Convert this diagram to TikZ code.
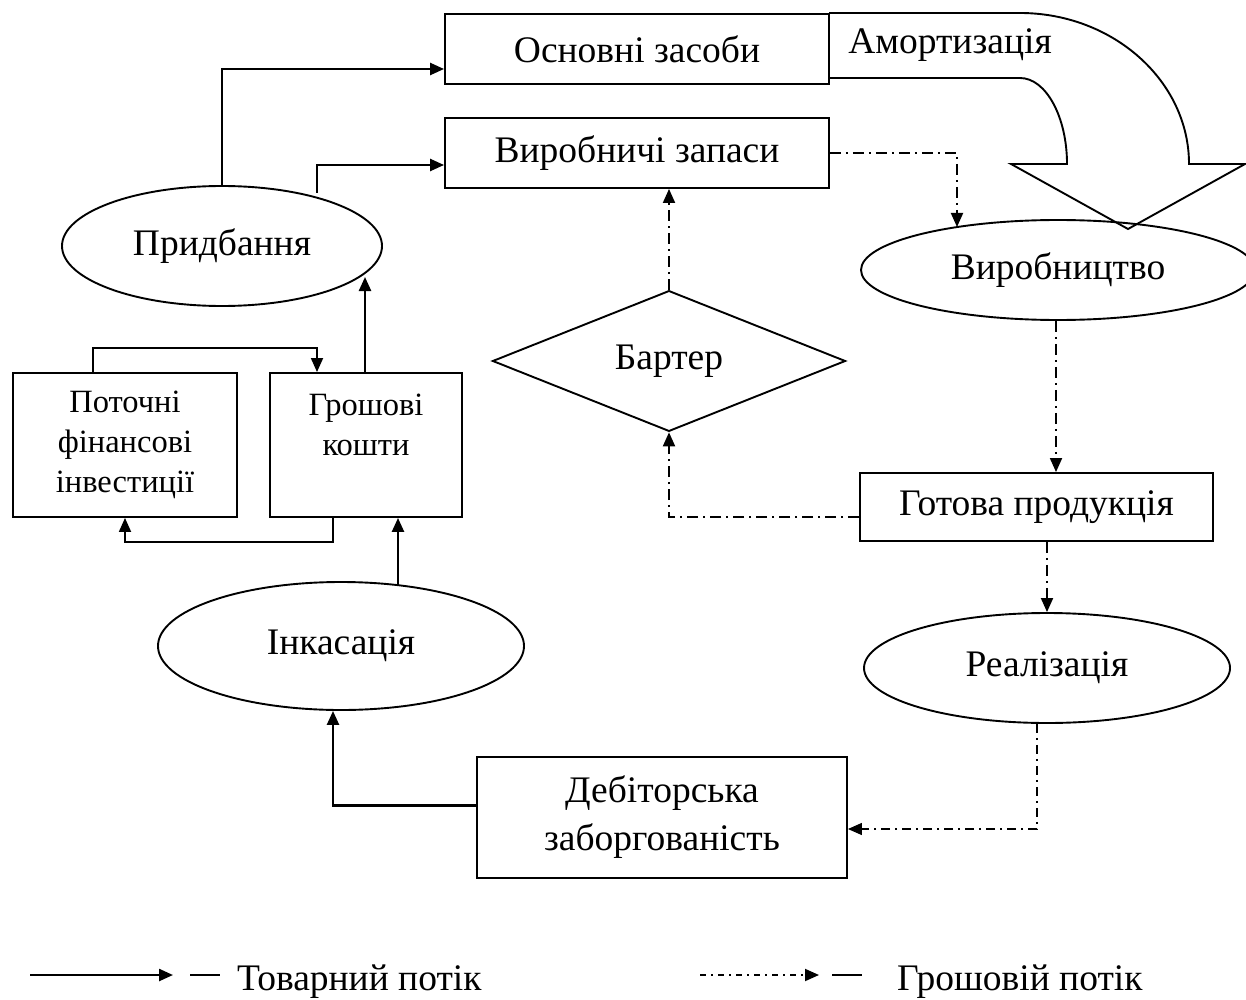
\documentclass[tikz,border=0pt]{standalone}
\usepackage{fontspec}
\setmainfont{Liberation Serif}
\usetikzlibrary{shapes.geometric,arrows.meta,calc}
\begin{document}
\begin{tikzpicture}[x=1pt,y=-1pt,
  box/.style={draw,line width=1.9pt,rectangle,inner sep=0pt,align=center,font=\fontsize{37.5}{48}\selectfont},
  sbox/.style={draw,line width=1.9pt,rectangle,inner sep=0pt,align=center,font=\fontsize{32.5}{40}\selectfont},
  ell/.style={draw,line width=1.9pt,ellipse,inner sep=0pt,font=\fontsize{37.5}{48}\selectfont},
  dia/.style={draw,line width=1.9pt,diamond,inner sep=0pt,font=\fontsize{37.5}{48}\selectfont},
  lbl/.style={inner sep=0pt,font=\fontsize{37.5}{48}\selectfont},
  tip/.style={-{Triangle[length=14pt,width=12pt]}},
  goods/.style={line width=2.4pt,tip},
  goodsthin/.style={line width=1.8pt,tip},
  money/.style={line width=1.9pt,dash pattern=on 11pt off 5pt on 2pt off 5pt,tip},
  moneythin/.style={line width=1.4pt,dash pattern=on 9pt off 5pt on 2pt off 5pt,tip},
  moneyleg/.style={line width=1.9pt,dash pattern=on 6pt off 5pt on 2pt off 5pt,tip},
  ]
\useasboundingbox (0,0) rectangle (1246,1000);
% boxes
\node[box,minimum width=384pt,minimum height=70pt] (os) at (637,49) {Основні засоби};
\node[box,minimum width=384pt,minimum height=70pt] (vz) at (637,153) {Виробничі запаси};
\node[box,minimum width=353pt,minimum height=68pt] (gp) at (1036.5,507) {Готова продукція};
\node[box,minimum width=370pt,minimum height=121pt] (db) at (662,817.5) {Дебіторська\\заборгованість};
\node[sbox,minimum width=224pt,minimum height=144pt] (pf) at (125,445) {Поточні\\фінансові\\інвестиції};
\node[sbox,minimum width=192pt,minimum height=144pt] (gk) at (366,445) {Грошові\\кошти\\~};
% ellipses
\node[ell,minimum width=320pt,minimum height=120pt] (pr) at (222,246) {Придбання};
\node[ell,minimum width=394pt,minimum height=100pt] (vr) at (1058,270) {Виробництво};
\node[ell,minimum width=366pt,minimum height=110pt] (rl) at (1047,668) {Реалізація};
\node[ell,minimum width=366pt,minimum height=128pt] (ik) at (341,646) {Інкасація};
\node[dia,minimum width=353pt,minimum height=119pt] (bt) at (669,361) {Бартер};
% amortization arrow
\draw[line width=1.9pt] (829,13) -- (1020,13) .. controls (1113,13) and (1189,81) .. (1189,164)
  -- (1245,164) -- (1128,229) -- (1011,164) -- (1067,164)
  .. controls (1067,117) and (1046,78) .. (1020,78) -- (829,78);
\node[lbl] (am) at (950,45) {Амортизація};
% coordinates
\coordinate (c1) at (317,193);
\coordinate (prb) at (365,277);
\coordinate (ikt) at (398,585);
\coordinate (vrt) at (957,227);
% goods flows
\draw[goods] (pr.north) |- ([yshift=-20pt]os.west);
\draw[goods] (c1) |- ([yshift=-12pt]vz.west);
\draw[goods] (gk.north -| prb) -- (prb);
\draw[goodsthin] ([xshift=-32pt]pf.north) -- ++(0,-24) -| ([xshift=-49pt]gk.north);
\draw[goodsthin] ([xshift=-33pt]gk.south) -- ++(0,24) -| (pf.south);
\draw[goods] (ikt) -- (ikt |- gk.south);
\draw[goods] ([yshift=12pt]db.west) -| ([xshift=-8pt]ik.south);
% money flows
\draw[money] (vz.east) -| (vrt);
\draw[money] (bt.north) -- (bt.north |- vz.south);
\draw[money] ([yshift=-10pt]gp.west) -| (bt.south);
\draw[money] ([xshift=-2pt]vr.south) -- ([xshift=-2pt]vr.south |- gp.north);
\draw[money] (gp.south -| rl.north) -- (rl.north);
\draw[moneythin] ([xshift=-10pt]rl.south) |- ([yshift=-11.5pt]db.east);
% legend
\coordinate (la) at (30,975);
\coordinate (lb) at (173,975);
\coordinate (lc) at (700,975);
\coordinate (ld) at (819,975);
\draw[goods] (la) -- (lb);
\draw[moneyleg] (lc) -- (ld);
\node[lbl,anchor=base west] (l1) at (190,990) {\rule[14pt]{30pt}{1.6pt}\hspace{17pt}Товарний потік};
\node[lbl,anchor=base west] (l2) at (832,990) {\rule[14pt]{30pt}{1.6pt}\hspace{35pt}Грошовій потік};
\end{tikzpicture}
\end{document}
